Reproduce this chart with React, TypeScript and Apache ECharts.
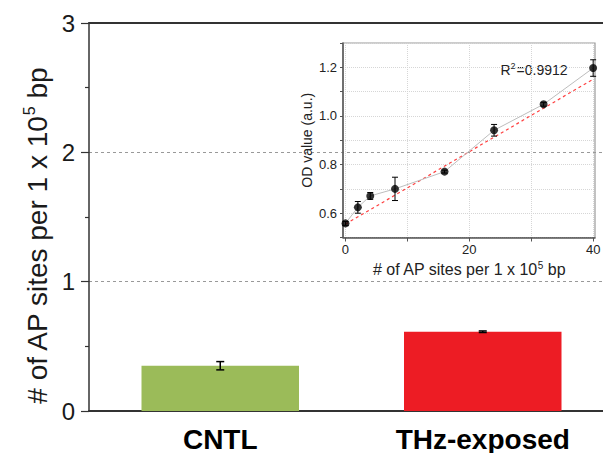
import React, { useEffect, useRef } from "react";
import * as echarts from "echarts";

const categories = ["CNTL", "THz-exposed"];
const barValues = [0.35, 0.613];
const barErrors = [0.032, 0.006];
const barColors = ["#9BBB59", "#ED1C24"];

const insetX = [0, 2, 4, 8, 16, 24, 32, 40];
const insetY = [0.558, 0.624, 0.671, 0.7, 0.771, 0.941, 1.048, 1.197];
const insetErr = [0.008, 0.024, 0.014, 0.048, 0.006, 0.024, 0.008, 0.034];
const fitX = [0, 40];
const fitY = [0.555, 1.151];
const insetXTicks = [0, 10, 20, 30, 40];
const insetXLabels = [0, 20, 40];
const insetYTicks = [0.5, 0.6, 0.7, 0.8, 0.9, 1.0, 1.1, 1.2, 1.3];
const insetYLabels = [0.6, 0.8, 1.0, 1.2];
const r2Value = "0.9912";

const FONT = "Liberation Sans, Arial, sans-serif";

function errRender(cap: number, width: number) {
  return (params: any, api: any) => {
    const x = api.value(0);
    const y = api.value(1);
    const e = api.value(2);
    const top = api.coord([x, y + e]);
    const bot = api.coord([x, y - e]);
    const st = { stroke: "#000", lineWidth: width };
    return {
      type: "group",
      children: [
        { type: "line", shape: { x1: top[0], y1: top[1], x2: bot[0], y2: bot[1] }, style: st },
        { type: "line", shape: { x1: top[0] - cap, y1: top[1], x2: top[0] + cap, y2: top[1] }, style: st },
        { type: "line", shape: { x1: bot[0] - cap, y1: bot[1], x2: bot[0] + cap, y2: bot[1] }, style: st },
      ],
    };
  };
}

export default function App() {
  const ref = useRef<HTMLDivElement>(null);
  useEffect(() => {
    document.body.style.margin = "0";
    if (!ref.current) return;
    const chart = echarts.init(ref.current, null, { renderer: "svg" });
    const option: any = {
      animation: false,
      backgroundColor: "#fff",
      textStyle: { fontFamily: FONT },
      grid: [
        { left: 89, top: 23, width: 525, height: 388, show: false },
        {
          left: 343, top: 43, width: 252, height: 194.5,
          show: true, borderColor: "#999", borderWidth: 1.2, backgroundColor: "transparent",
        },
      ],
      xAxis: [
        {
          type: "category", gridIndex: 0, data: categories,
          axisLine: { lineStyle: { color: "#333", width: 2 } },
          axisTick: { show: false },
          axisLabel: { fontSize: 28, fontWeight: "bold", color: "#000", margin: 14, fontFamily: FONT },
          splitLine: { show: false },
        },
        {
          type: "value", gridIndex: 1, min: -0.4, max: 40.3,
          axisLine: { onZero: false, lineStyle: { color: "#555", width: 1.5 } },
          axisTick: { show: true, length: 4, customValues: insetXTicks, lineStyle: { color: "#555" } },
          axisLabel: { customValues: insetXLabels, fontSize: 13, color: "#222", margin: 5, fontFamily: FONT },
          splitLine: { show: true, lineStyle: { color: "#d6d6d6", type: "dotted", width: 1 } },
          name: "{a|# of AP sites per 1 x 10}{s|5}{a| bp}",
          nameLocation: "middle",
          nameGap: 23,
          nameTextStyle: {
            rich: {
              a: { fontSize: 16, color: "#222", fontFamily: FONT, lineHeight: 18 },
              s: { fontSize: 10, color: "#222", fontFamily: FONT, verticalAlign: "top", lineHeight: 12 },
            },
          },
        },
        {
          type: "category", gridIndex: 0, data: categories, position: "top",
          axisLine: { show: true, lineStyle: { color: "#333", width: 2 } },
          axisTick: { show: false },
          axisLabel: { show: false },
          splitLine: { show: false },
        },
      ],
      yAxis: [
        {
          type: "value", gridIndex: 0, min: 0, max: 3, interval: 1,
          axisLine: { show: true, lineStyle: { color: "#333", width: 1.5 } },
          axisTick: { show: true, length: 8, lineStyle: { color: "#333", width: 1.2 } },
          minorTick: { show: true, splitNumber: 2, length: 4, lineStyle: { color: "#333", width: 1.2 } },
          axisLabel: { fontSize: 24, color: "#1a1a1a", margin: 14, fontFamily: FONT },
          splitLine: { show: true, lineStyle: { color: "#999", type: [3, 3], width: 1 } },
        },
        {
          type: "value", gridIndex: 1, min: 0.5, max: 1.3,
          axisLine: { show: true, onZero: false, lineStyle: { color: "#555", width: 1.5 } },
          axisTick: { show: true, length: 3, customValues: insetYTicks, lineStyle: { color: "#555" } },
          axisLabel: {
            customValues: insetYLabels, fontSize: 13, color: "#222", margin: 6, fontFamily: FONT,
            formatter: (v: number) => v.toFixed(1),
          },
          splitLine: { show: true, lineStyle: { color: "#d6d6d6", type: "dotted", width: 1 } },
          name: "OD value (a.u.)",
          nameLocation: "middle",
          nameGap: 29,
          nameTextStyle: { fontSize: 14, color: "#222", fontFamily: FONT },
        },
      ],
      graphic: [
        {
          type: "text",
          x: 37, y: 236, rotation: Math.PI / 2,
          style: {
            text: "{a|# of AP sites per 1 x 10}{s|5}{a| bp}",
            align: "center", verticalAlign: "middle",
            rich: {
              a: { fontSize: 28, fill: "#1a1a1a", fontFamily: FONT, lineHeight: 31 },
              s: { fontSize: 16, fill: "#1a1a1a", fontFamily: FONT, verticalAlign: "top", lineHeight: 18 },
            },
          },
        },
        {
          type: "text",
          x: 534, y: 70,
          style: {
            text: "{a|R}{s|2}{a|=" + r2Value + "}",
            align: "center", verticalAlign: "middle",
            rich: {
              a: { fontSize: 14, fill: "#222", fontFamily: FONT, lineHeight: 17 },
              s: { fontSize: 9, fill: "#222", fontFamily: FONT, verticalAlign: "top", lineHeight: 10, padding: [0, 1, 0, 0] },
            },
          },
        },
      ],
      series: [
        {
          type: "bar", xAxisIndex: 0, yAxisIndex: 0, barWidth: "60%",
          data: barValues.map((v, i) => ({ value: v, itemStyle: { color: barColors[i] } })),
        },
        {
          type: "custom", xAxisIndex: 0, yAxisIndex: 0,
          renderItem: errRender(4, 1.5),
          data: barValues.map((v, i) => [i, v, barErrors[i]]),
          z: 5,
        },
        {
          type: "line", xAxisIndex: 1, yAxisIndex: 1, showSymbol: false, symbol: "none",
          data: fitX.map((x, i) => [x, fitY[i]]),
          lineStyle: { color: "#ff4040", width: 1.2, type: [3, 3] },
          z: 3,
        },
        {
          type: "line", xAxisIndex: 1, yAxisIndex: 1, showSymbol: false, symbol: "none",
          data: insetX.map((x, i) => [x, insetY[i]]),
          lineStyle: { color: "#bdbdbd", width: 1 },
          z: 4,
        },
        {
          type: "custom", xAxisIndex: 1, yAxisIndex: 1,
          renderItem: errRender(3, 1),
          data: insetX.map((x, i) => [x, insetY[i], insetErr[i]]),
          z: 5,
        },
        {
          type: "scatter", xAxisIndex: 1, yAxisIndex: 1, symbol: "circle", symbolSize: 8,
          itemStyle: { color: "#000" },
          data: insetX.map((x, i) => [x, insetY[i]]),
          z: 6,
        },
      ],
    };
    chart.setOption(option);
    return () => chart.dispose();
  }, []);
  return (
    <div style={{ width: 603, height: 453, overflow: "hidden", position: "relative" }}>
      <div ref={ref} style={{ width: 630, height: 453 }} />
    </div>
  );
}
